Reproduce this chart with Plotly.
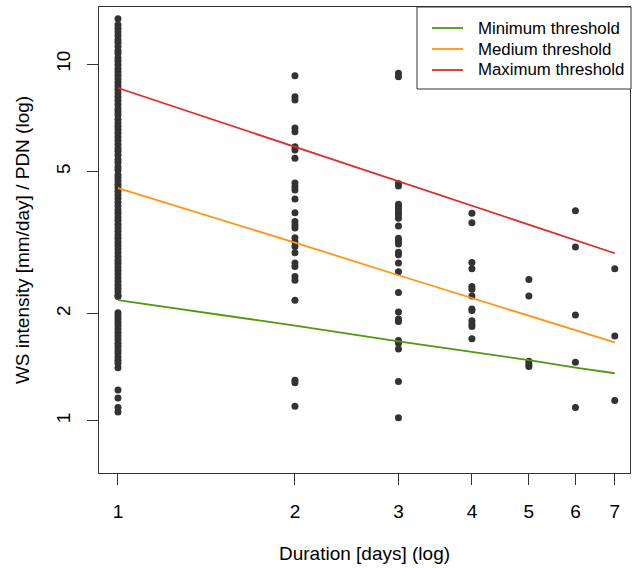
import plotly.graph_objects as go

# ---- data ----
durations = [1, 2, 3, 4, 5, 6, 7]

d1_values = [13.4, 12.9, 12.6, 12.3, 12.0, 11.7, 11.5, 11.2, 10.9, 10.7, 10.4, 10.2, 9.95, 9.7,
             9.5, 9.3, 9.1, 8.9, 8.7, 8.5, 8.3, 8.1, 7.9, 7.7, 7.5, 7.35, 7.2, 7.0, 6.85, 6.7,
             6.55, 6.4, 6.25, 6.1, 5.95, 5.8, 5.7, 5.55, 5.4, 5.3, 5.15, 5.05, 4.9, 4.8, 4.7,
             4.6, 4.5, 4.4, 4.3, 4.2, 4.1, 4.0, 3.9, 3.82, 3.73, 3.65, 3.56, 3.48, 3.4, 3.32,
             3.25, 3.17, 3.1, 3.03, 2.96, 2.89, 2.82, 2.76, 2.7, 2.64, 2.58, 2.52, 2.46, 2.4,
             2.35, 2.3, 2.25, 2.23,
             2.01, 1.97, 1.93, 1.89, 1.85, 1.81, 1.77, 1.73, 1.69, 1.65, 1.62, 1.58, 1.55,
             1.51, 1.48, 1.45, 1.41,
             1.22, 1.16, 1.09, 1.06]
d2_values = [9.27, 8.10, 7.93, 6.62, 6.46, 5.87, 5.74, 5.45, 4.64, 4.53, 4.44, 4.19, 3.83,
             3.62, 3.54, 3.47, 3.26, 3.18, 3.08, 2.96, 2.77, 2.71, 2.54, 2.48, 2.18, 1.30,
             1.28, 1.10]
d3_values = [9.42, 9.21, 4.63, 4.55, 4.05, 3.98, 3.92, 3.84, 3.78, 3.70, 3.52, 3.25, 3.19,
             3.13, 2.97, 2.92, 2.77, 2.62, 2.29, 2.02, 1.93, 1.90, 1.68, 1.65, 1.59, 1.29, 1.02]
d4_values = [3.82, 3.59, 2.78, 2.67, 2.38, 2.34, 2.24, 2.06, 2.04, 1.91, 1.87, 1.84, 1.70]
d5_values = [2.49, 2.24, 1.47, 1.44, 1.42]
d6_values = [3.88, 3.07, 1.98, 1.46, 1.09]
d7_values = [2.67, 1.73, 1.14]

min_threshold = [2.18, 1.85, 1.67, 1.56, 1.48, 1.41, 1.36]
med_threshold = [4.49, 3.16, 2.56, 2.21, 1.98, 1.80, 1.66]
max_threshold = [8.57, 5.87, 4.70, 4.02, 3.55, 3.21, 2.95]

threshold_names = ["Minimum threshold", "Medium threshold", "Maximum threshold"]
threshold_colors = ["#4E9A0C", "#FF9410", "#DD2B2B"]

x_ticks = [1, 2, 3, 4, 5, 6, 7]
y_ticks = [1, 2, 5, 10]

# ---- build point arrays ----
groups = [d1_values, d2_values, d3_values, d4_values, d5_values, d6_values, d7_values]
px_x, px_y = [], []
for d, vals in zip(durations, groups):
    px_x += [d] * len(vals)
    px_y += vals

FONT = "Liberation Sans, Arial, sans-serif"
AX = "#333333"

W, H = 632, 568
ML, MR, MT, MB = 99, 2, 7, 95
PW, PH = W - ML - MR, H - MT - MB


def pxx(fx):
    return (fx - ML) / PW


def pxy(fy):
    return 1 - (fy - MT) / PH


fig = go.Figure()
fig.add_trace(go.Scatter(x=px_x, y=px_y, mode="markers",
                         marker=dict(size=7, color="#333333"),
                         showlegend=False))
for name, col, vals in zip(threshold_names, threshold_colors,
                           [min_threshold, med_threshold, max_threshold]):
    fig.add_trace(go.Scatter(x=durations, y=vals, mode="lines",
                             line=dict(color=col, width=1.8), name=name,
                             showlegend=False))

# ---- legend box (drawn like R's legend) ----
shapes = [dict(type="rect", xref="paper", yref="paper",
               x0=pxx(417), x1=pxx(631), y0=pxy(89), y1=pxy(7),
               line=dict(color=AX, width=1), fillcolor="white", layer="above")]
annotations = []
for i, (name, col) in enumerate(zip(threshold_names, threshold_colors)):
    fy = 28 + 21 * i
    shapes.append(dict(type="line", xref="paper", yref="paper",
                       x0=pxx(432), x1=pxx(463), y0=pxy(fy), y1=pxy(fy),
                       line=dict(color=col, width=1.8), layer="above"))
    annotations.append(dict(xref="paper", yref="paper", x=pxx(476), y=pxy(fy),
                            xanchor="left", yanchor="middle", showarrow=False,
                            text=name, font=dict(family=FONT, size=16.8, color="#000000")))

fig.update_layout(
    width=W, height=H,
    margin=dict(l=ML, r=MR, t=MT, b=MB),
    paper_bgcolor="white", plot_bgcolor="white",
    font=dict(family=FONT, size=19, color="#000000"),
    showlegend=False,
    shapes=shapes, annotations=annotations,
    xaxis=dict(type="log", range=[-0.0323, 0.871],
               tickvals=x_ticks, ticktext=[str(t) for t in x_ticks],
               ticks="outside", ticklen=11, tickcolor=AX, tickwidth=1,
               showline=True, mirror=True, linecolor=AX, linewidth=1,
               showgrid=False, zeroline=False, ticklabelstandoff=10,
               tickfont=dict(size=19),
               title=dict(text="Duration [days] (log)", standoff=25,
                          font=dict(size=19))),
    yaxis=dict(type="log", range=[-0.146, 1.160],
               tickvals=y_ticks, ticktext=[str(t) for t in y_ticks],
               tickangle=-90,
               ticks="outside", ticklen=11, tickcolor=AX, tickwidth=1,
               showline=True, mirror=True, linecolor=AX, linewidth=1,
               showgrid=False, zeroline=False, ticklabelstandoff=9,
               tickfont=dict(size=19),
               title=dict(text="WS intensity [mm/day] / PDN (log)", standoff=18,
                          font=dict(size=19))),
)

fig.write_html("out.html",
               config={"displayModeBar": False},
               post_script="document.body.style.margin='0';"
                           "document.body.style.overflow='hidden';")
